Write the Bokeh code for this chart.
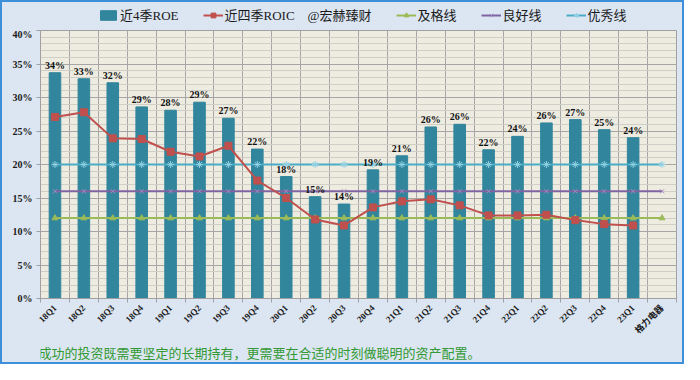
from bokeh.plotting import figure
from bokeh.layouts import column
from bokeh.models import Range1d, FixedTicker, PrintfTickFormatter, Legend, LegendItem, Label
from bokeh.core.properties import value
from bokeh.embed import file_html
from bokeh.resources import INLINE
from math import pi

categories = ["18Q1", "18Q2", "18Q3", "18Q4", "19Q1", "19Q2", "19Q3", "19Q4",
              "20Q1", "20Q2", "20Q3", "20Q4", "21Q1", "21Q2", "21Q3", "21Q4",
              "22Q1", "22Q2", "22Q3", "22Q4", "23Q1", "格力电器"]
roe = [33.7, 32.8, 32.2, 28.6, 28.1, 29.3, 26.9, 22.3, 18.2, 15.2, 14.1,
       19.2, 21.3, 25.6, 26.0, 22.2, 24.2, 26.2, 26.7, 25.2, 24.0]
roic = [27.1, 27.8, 23.9, 23.8, 21.9, 21.2, 22.8, 17.6, 15.0, 11.8, 10.9,
        13.6, 14.5, 14.8, 13.9, 12.4, 12.4, 12.5, 11.7, 11.1, 10.9]
pass_line = [12, 12, 12, 12, 12, 12, 12, 12, 12, 12, 12,
             12, 12, 12, 12, 12, 12, 12, 12, 12, 12, 12]
good_line = [16, 16, 16, 16, 16, 16, 16, 16, 16, 16, 16,
             16, 16, 16, 16, 16, 16, 16, 16, 16, 16, 16]
excellent_line = [20, 20, 20, 20, 20, 20, 20, 20, 20, 20, 20,
                  20, 20, 20, 20, 20, 20, 20, 20, 20, 20, 20]
y_ticks = [0, 5, 10, 15, 20, 25, 30, 35, 40]
y_minor = [0, 1, 2, 3, 4, 5, 6, 7, 8, 9, 10, 11, 12, 13, 14, 15, 16, 17, 18, 19, 20,
           21, 22, 23, 24, 25, 26, 27, 28, 29, 30, 31, 32, 33, 34, 35, 36, 37, 38, 39, 40]
series_names = ["近4季ROE", "近四季ROIC\u3000@宏赫臻财", "及格线", "良好线", "优秀线"]
footer = "成功的投资既需要坚定的长期持有，更需要在合适的时刻做聪明的资产配置。"

n = len(categories)
xs = [i + 0.5 for i in range(n)]
bounds = list(range(n + 1))
labels = [f"{v:.0f}%" for v in roe]

SERIF = "'Liberation Serif', 'Noto Sans CJK SC'"
BG = "#dce6f2"
C_ROE, C_ROIC = "#31859c", "#c0504d"
C_PASS, C_GOOD, C_EXC = "#9bbb59", "#8064a2", "#4bacc6"
M_GOOD, M_EXC = "#a08cc0", "#8fd0e3"


def blank_fig(h):
    f = figure(width=680, height=h, output_backend="svg", toolbar_location=None,
               x_axis_type=None, y_axis_type=None,
               x_range=Range1d(0, n), y_range=Range1d(0, 40), min_border=0)
    f.background_fill_color = BG
    f.border_fill_color = BG
    f.outline_line_color = None
    f.grid.grid_line_color = None
    return f


def add_series(f, visible=True):
    r = {}
    r["roe"] = [f.vbar(x=xs[:len(roe)], top=roe, width=0.4, bottom=0,
                       fill_color=C_ROE, line_color=C_ROE, visible=visible)]
    r["pass"] = [f.line(xs, pass_line, line_color=C_PASS, line_width=2, visible=visible),
                 f.scatter(xs, pass_line, marker="triangle", size=6, fill_color=C_PASS,
                           line_color=C_PASS, visible=visible)]
    r["good"] = [f.line(xs, good_line, line_color=C_GOOD, line_width=2, visible=visible),
                 f.scatter(xs, good_line, marker="x", size=6, line_color=M_GOOD,
                           line_width=1, visible=visible)]
    r["exc"] = [f.line(xs, excellent_line, line_color=C_EXC, line_width=2, visible=visible),
                f.scatter(xs, excellent_line, marker="asterisk", size=7, line_color=M_EXC,
                          line_width=1, visible=visible)]
    r["roic"] = [f.line(xs[:len(roic)], roic, line_color=C_ROIC, line_width=2, visible=visible),
                 f.scatter(xs[:len(roic)], roic, marker="square", size=7, fill_color=C_ROIC,
                           line_color=C_ROIC, visible=visible)]
    return r


# ---------- main chart ----------
p = figure(width=680, height=314, output_backend="svg", toolbar_location=None,
           x_range=Range1d(0, n), y_range=Range1d(0, 40),
           min_border_left=38, min_border_right=6, min_border_top=2, min_border_bottom=34)
p.background_fill_color = "#eeece1"
p.border_fill_color = BG
p.outline_line_color = "#a0a0a0"

p.xgrid.ticker = FixedTicker(ticks=bounds)
p.xgrid.grid_line_color = "#a6a6a6"
p.ygrid.grid_line_color = "#a6a6a6"
p.ygrid.minor_grid_line_color = "#cfcfc8"

p.yaxis.ticker = FixedTicker(ticks=y_ticks, minor_ticks=y_minor)
p.yaxis.formatter = PrintfTickFormatter(format="%d%%")
p.yaxis.axis_line_color = "#a0a0a0"
p.yaxis.major_tick_line_color = "#a0a0a0"
p.yaxis.major_tick_out = 4
p.yaxis.major_tick_in = 0
p.yaxis.minor_tick_line_color = None
p.yaxis.major_label_text_font = SERIF
p.yaxis.major_label_text_font_style = "bold"
p.yaxis.major_label_text_font_size = "10px"
p.yaxis.major_label_text_color = "#1a1a1a"
p.yaxis.major_label_standoff = 4

p.xaxis.ticker = FixedTicker(ticks=xs, minor_ticks=bounds)
p.xaxis.major_label_overrides = {x: c for x, c in zip(xs, categories)}
p.xaxis.axis_line_color = "#a0a0a0"
p.xaxis.major_tick_line_color = None
p.xaxis.major_tick_out = 0
p.xaxis.major_tick_in = 0
p.xaxis.minor_tick_line_color = "#a0a0a0"
p.xaxis.minor_tick_out = 4
p.xaxis.minor_tick_in = 0
p.xaxis.major_label_orientation = pi / 4
p.xaxis.major_label_text_font = SERIF
p.xaxis.major_label_text_font_style = "bold"
p.xaxis.major_label_text_font_size = "9px"
p.xaxis.major_label_text_color = "#1a1a1a"
p.xaxis.major_label_standoff = 4

main_r = add_series(p)
p.text(x=xs[:len(roe)], y=roe, text=labels, text_align="center", text_baseline="bottom",
       y_offset=-2, text_font=value("Liberation Serif"), text_font_style="bold",
       text_font_size="10px", text_color="#111111")
p.renderers.remove(main_r["roe"][0])
p.renderers.insert(0, main_r["roe"][0])

# ---------- legend strip (swatches only, series hidden) ----------
lf = blank_fig(26)
leg_r = add_series(lf, visible=False)
legend = Legend(items=[
    LegendItem(label=series_names[0], renderers=leg_r["roe"]),
    LegendItem(label=series_names[1], renderers=leg_r["roic"]),
    LegendItem(label=series_names[2], renderers=leg_r["pass"]),
    LegendItem(label=series_names[3], renderers=leg_r["good"]),
    LegendItem(label=series_names[4], renderers=leg_r["exc"]),
], location=(58, 4), orientation="horizontal")
legend.padding = 0
legend.margin = 0
legend.spacing = 24
legend.glyph_width = 20
legend.glyph_height = 12
legend.label_height = 14
legend.label_standoff = 2
legend.label_text_font = SERIF
legend.label_text_font_size = "13px"
legend.label_text_color = "#1a1a1a"
legend.border_line_color = None
legend.background_fill_alpha = 0
legend.inactive_fill_alpha = 0
legend.click_policy = "none"
lf.add_layout(legend)

# ---------- footer strip ----------
ff = blank_fig(20)
ff.add_layout(Label(x=-2, y=10, x_units="screen", y_units="screen", text=footer,
                    text_font="Noto Sans CJK SC", text_font_size="13px",
                    text_color="#339933", text_baseline="middle"))

layout = column(lf, p, ff, spacing=0)
layout.styles = {"border": "2px solid #3d8fd9", "background-color": BG}

open("out.html", "w").write(file_html(layout, INLINE))
